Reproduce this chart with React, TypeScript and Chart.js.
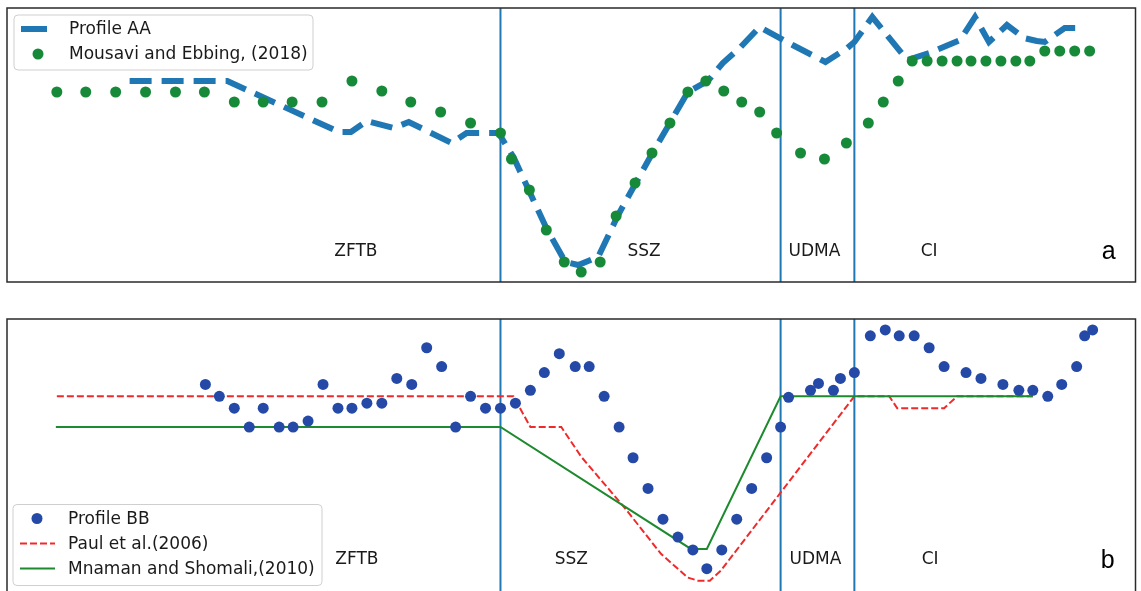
import React, { useEffect, useRef } from "react";
import { Chart, registerables } from "chart.js";

Chart.register(...registerables);

// ---------- Panel a data (distance units along profile, relative value) ----------
const mousaviX = [50, 79, 109, 139, 169, 198, 228, 257, 286, 316, 346, 376, 405, 435, 465, 495, 506, 524, 541, 559, 576, 595, 611, 630, 647, 665, 683, 701, 719, 737, 755, 772, 796, 820, 842, 864, 879, 894, 908, 923, 938, 953, 967, 982, 997, 1012, 1026, 1041, 1056, 1071, 1086];
const mousaviY = [190, 190, 190, 190, 190, 190, 180, 180, 180, 180, 201, 191, 180, 170, 159, 149, 123, 92, 52, 20, 10, 20, 66, 99, 129, 159, 190, 201, 191, 180, 170, 149, 129, 123, 139, 159, 180, 201, 221, 221, 221, 221, 221, 221, 221, 221, 221, 231, 231, 231, 231];

const profileAAX = [123, 221, 333, 345, 361, 388, 403, 446, 461, 493, 508, 541, 560, 573, 593, 613, 648, 683, 703, 718, 736, 755, 788, 821, 843, 850, 868, 903, 925, 956, 971, 985, 1003, 1020, 1033, 1041, 1061, 1078];
const profileAAY = [201, 201, 150, 150, 161, 154, 160, 139, 149, 149, 125, 54, 20, 17, 25, 67, 130, 190, 201, 219, 235, 255, 237, 220, 234, 240, 265, 222, 229, 242, 265, 240, 257, 244, 241, 240, 254, 254];

// ---------- Panel b data ----------
const profileBBX = [199, 213, 228, 243, 257, 273, 287, 302, 317, 332, 346, 361, 376, 391, 406, 421, 436, 450, 465, 480, 495, 510, 525, 539, 554, 570, 584, 599, 614, 628, 643, 658, 673, 688, 702, 717, 732, 747, 762, 776, 784, 806, 814, 829, 836, 850, 866, 881, 895, 910, 925, 940, 962, 977, 999, 1015, 1029, 1044, 1058, 1073, 1081, 1089];
const profileBBY = [212, 200, 188, 169, 188, 169, 169, 175, 212, 188, 188, 193, 193, 218, 212, 249, 230, 169, 200, 188, 188, 193, 206, 224, 243, 230, 230, 200, 169, 138, 107, 76, 58, 45, 26, 45, 76, 107, 138, 169, 199, 206, 213, 206, 218, 224, 261, 267, 261, 261, 249, 230, 224, 218, 212, 206, 206, 200, 212, 230, 261, 267];

const paulX = [50, 508, 525, 556, 576, 620, 656, 683, 693, 705, 716, 850, 885, 893, 940, 953, 1029];
const paulY = [200, 200, 169, 169, 139, 87, 41, 17, 14, 14, 24, 200, 200, 188, 188, 200, 200];

const mnamanX = [49, 495, 686, 702, 776, 1029];
const mnamanY = [169, 169, 46, 46, 200, 200];

// ---------- zones ----------
const boundaryX = [495, 776, 850];
const zoneNames = ["ZFTB", "SSZ", "UDMA", "CI"];
const zoneLabelXA = [350, 639, 810, 925];
const zoneLabelXB = [351, 566, 811, 926];

const pts = (xs: number[], ys: number[]) => xs.map((x, i) => ({ x, y: ys[i] }));

const FONT = "'DejaVu Sans', sans-serif";
const TEXT = "#1a1a1a";

type LegendItem = { label: string; kind: "dash" | "dot" | "line"; color: string; width?: number; dash?: number[] };

function makePlugin(opts: {
  labelsX: number[];
  labelY: number;
  panelLetter: string;
  letterX: number;
  letterY: number;
  legend: LegendItem[];
  legendBox: { dx: number; dy: number; w: number; h: number; fromBottom: boolean };
}) {
  return {
    id: "decor",
    afterDraw(chart: any) {
      const ctx = chart.ctx as CanvasRenderingContext2D;
      const xs = chart.scales.x;
      const ys = chart.scales.y;
      const ca = chart.chartArea;
      ctx.save();
      // frame
      ctx.strokeStyle = "#2a2a2a";
      ctx.lineWidth = 1.5;
      ctx.strokeRect(ca.left, ca.top, ca.right - ca.left, ca.bottom - ca.top);
      // zone labels
      ctx.fillStyle = TEXT;
      ctx.font = `17px ${FONT}`;
      ctx.textAlign = "center";
      ctx.textBaseline = "middle";
      zoneNames.forEach((n, i) => {
        ctx.fillText(n, xs.getPixelForValue(opts.labelsX[i]), ys.getPixelForValue(opts.labelY));
      });
      // panel letter
      ctx.font = `25px 'Liberation Sans', sans-serif`;
      ctx.fillStyle = "#000";
      ctx.fillText(opts.panelLetter, xs.getPixelForValue(opts.letterX), ys.getPixelForValue(opts.letterY));
      // legend
      const lb = opts.legendBox;
      const bx = ca.left + lb.dx;
      const by = lb.fromBottom ? ca.bottom - lb.dy - lb.h : ca.top + lb.dy;
      ctx.beginPath();
      (ctx as any).roundRect(bx, by, lb.w, lb.h, 4);
      ctx.fillStyle = "rgba(255,255,255,0.85)";
      ctx.fill();
      ctx.strokeStyle = "#cfcfcf";
      ctx.lineWidth = 1;
      ctx.stroke();
      ctx.textAlign = "left";
      ctx.font = `17px ${FONT}`;
      opts.legend.forEach((it, i) => {
        const cy = by + 14 + i * 25;
        if (it.kind === "dot") {
          ctx.beginPath();
          ctx.fillStyle = it.color;
          ctx.arc(bx + 24, cy, 5.5, 0, Math.PI * 2);
          ctx.fill();
        } else {
          ctx.beginPath();
          ctx.strokeStyle = it.color;
          ctx.lineWidth = it.width || 2;
          ctx.lineCap = "butt";
          ctx.setLineDash(it.dash || []);
          const x0 = bx + 7;
          const x1 = it.kind === "dash" ? bx + 33 : bx + 42;
          ctx.moveTo(x0, cy);
          ctx.lineTo(x1, cy);
          ctx.stroke();
          ctx.setLineDash([]);
        }
        ctx.fillStyle = TEXT;
        ctx.fillText(it.label, bx + 55, cy + 1);
      });
      ctx.restore();
    },
  };
}

function vlineDatasets(yMin: number, yMax: number) {
  return boundaryX.map((x) => ({
    data: [
      { x, y: yMin },
      { x, y: yMax },
    ],
    showLine: true,
    borderColor: "#1f77b4",
    borderWidth: 2,
    pointRadius: 0,
    order: 10,
  }));
}

function baseOptions(padding: any, yMax: number) {
  return {
    animation: false,
    responsive: false,
    devicePixelRatio: 1,
    layout: { padding },
    plugins: { legend: { display: false }, tooltip: { enabled: false } },
    scales: {
      x: { type: "linear", min: 0, max: 1132, display: false },
      y: { type: "linear", min: 0, max: yMax, display: false },
    },
  } as any;
}

function PanelA() {
  const ref = useRef<HTMLCanvasElement>(null);
  useEffect(() => {
    const chart = new Chart(ref.current!, {
      type: "scatter",
      data: {
        datasets: [
          {
            data: pts(mousaviX, mousaviY),
            pointRadius: 5.5,
            pointBackgroundColor: "#178a3a",
            pointBorderWidth: 0,
            showLine: false,
            order: 1,
          } as any,
          {
            data: pts(profileAAX, profileAAY),
            showLine: true,
            borderColor: "#1f77b4",
            borderWidth: 6,
            borderDash: [22, 10],
            borderCapStyle: "butt",
            pointRadius: 0,
            tension: 0,
            order: 2,
          },
          ...vlineDatasets(-20, 300),
        ],
      },
      options: baseOptions({ left: 7, right: 2, top: 8, bottom: 18 }, 274),
      plugins: [
        makePlugin({
          labelsX: zoneLabelXA,
          labelY: 30,
          panelLetter: "a",
          letterX: 1105,
          letterY: 30,
          legend: [
            { label: "Profile AA", kind: "dash", color: "#1f77b4", width: 6 },
            { label: "Mousavi and Ebbing, (2018)", kind: "dot", color: "#178a3a" },
          ],
          legendBox: { dx: 7, dy: 7, w: 299, h: 55, fromBottom: false },
        }),
      ],
    });
    return () => chart.destroy();
  }, []);
  return <canvas ref={ref} width={1141} height={300} style={{ position: "absolute", left: 0, top: 0, display: "block" }} />;
}

function PanelB() {
  const ref = useRef<HTMLCanvasElement>(null);
  useEffect(() => {
    const chart = new Chart(ref.current!, {
      type: "scatter",
      data: {
        datasets: [
          {
            data: pts(profileBBX, profileBBY),
            pointRadius: 5.5,
            pointBackgroundColor: "#2449a6",
            pointBorderWidth: 0,
            showLine: false,
            order: 1,
          } as any,
          {
            data: pts(paulX, paulY),
            showLine: true,
            borderColor: "#f02a2a",
            borderWidth: 2,
            borderDash: [7, 3],
            pointRadius: 0,
            tension: 0,
            order: 3,
          },
          {
            data: pts(mnamanX, mnamanY),
            showLine: true,
            borderColor: "#1d8a2e",
            borderWidth: 2,
            pointRadius: 0,
            tension: 0,
            order: 2,
          },
          ...vlineDatasets(-20, 300),
        ],
      },
      options: baseOptions({ left: 7, right: 2, top: 19, bottom: 3 }, 278),
      plugins: [
        makePlugin({
          labelsX: zoneLabelXB,
          labelY: 35,
          panelLetter: "b",
          letterX: 1104,
          letterY: 34,
          legend: [
            { label: "Profile BB", kind: "dot", color: "#2449a6" },
            { label: "Paul et al.(2006)", kind: "line", color: "#f02a2a", width: 2, dash: [7, 3] },
            { label: "Mnaman and Shomali,(2010)", kind: "line", color: "#1d8a2e", width: 2 },
          ],
          legendBox: { dx: 6, dy: 9, w: 309, h: 81, fromBottom: true },
        }),
      ],
    });
    return () => chart.destroy();
  }, []);
  return <canvas ref={ref} width={1141} height={300} style={{ position: "absolute", left: 0, top: 300, display: "block" }} />;
}

export default function App() {
  return (
    <div style={{ position: "absolute", left: 0, top: 0, width: 1141, height: 591, overflow: "hidden", background: "#fff" }}>
      <PanelA />
      <PanelB />
    </div>
  );
}
